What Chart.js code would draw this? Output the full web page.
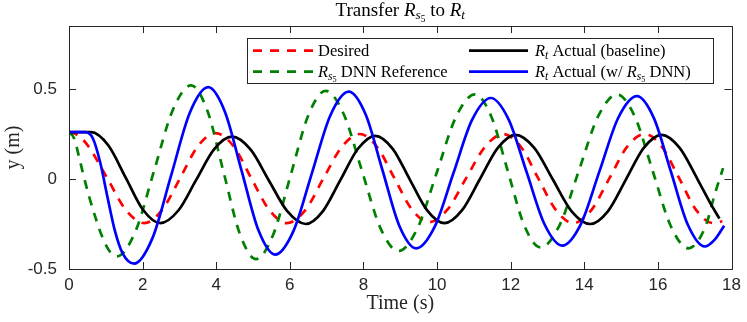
<!DOCTYPE html>
<html>
<head>
<meta charset="utf-8">
<script src="https://cdn.jsdelivr.net/npm/chart.js@4.4.1/dist/chart.umd.min.js"></script>
<style>
  body { margin: 0; background: #fff; }
  #wrap { width: 747px; height: 322px; }
</style>
</head>
<body>
<div id="wrap"><canvas id="c"></canvas></div>
<script>
// tick values
const xTicks = [0, 2, 4, 6, 8, 10, 12, 14, 16, 18];
const yTicks = [-0.5, 0, 0.5];

// Desired (red dashed)
const redT = [0, 0.25, 0.51, 1.03, 1.54, 2.05, 2.53, 3.02, 3.5, 3.98, 4.47, 4.95, 5.44, 5.92, 6.42, 6.91, 7.41, 7.9, 8.37, 8.84, 9.31, 9.78, 10.29, 10.79, 11.3, 11.8, 12.28, 12.75, 13.23, 13.7, 14.19, 14.68, 15.16, 15.65, 16.11, 16.58, 17.04, 17.5, 17.75];
const redY = [0.26, 0.242, 0.186, 0.008, -0.171, -0.245, -0.172, 0.005, 0.182, 0.255, 0.182, 0.005, -0.172, -0.245, -0.173, 0.003, 0.178, 0.25, 0.178, 0.005, -0.168, -0.24, -0.168, 0.005, 0.178, 0.25, 0.178, 0.003, -0.173, -0.245, -0.173, 0.003, 0.178, 0.25, 0.178, 0.003, -0.173, -0.245, -0.235];

// Rs5 DNN reference (green dashed)
const greenT = [0, 0.14, 0.27, 0.4, 0.55, 0.72, 0.9, 1.1, 1.3, 1.805, 2.31, 2.815, 3.32, 3.76, 4.2, 4.64, 5.08, 5.55, 6.025, 6.5, 6.97, 7.465, 7.96, 8.455, 8.95, 9.47, 9.99, 10.51, 11.03, 11.475, 11.92, 12.365, 12.81, 13.33, 13.85, 14.37, 14.89, 15.375, 15.86, 16.345, 16.83, 17.3, 17.55, 17.77];
const greenY = [0.26, 0.225, 0.125, 0.015, -0.1, -0.215, -0.32, -0.4, -0.43, -0.291, 0.045, 0.381, 0.52, 0.379, 0.038, -0.304, -0.445, -0.308, 0.023, 0.353, 0.49, 0.36, 0.045, -0.27, -0.4, -0.273, 0.035, 0.343, 0.47, 0.346, 0.045, -0.256, -0.38, -0.256, 0.045, 0.346, 0.47, 0.345, 0.043, -0.26, -0.385, -0.26, -0.08, 0.06];

// Rt actual, baseline (black)
const blackT = [0, 0.6, 1.07, 1.54, 2.01, 2.48, 2.97, 3.455, 3.94, 4.43, 4.93, 5.43, 5.93, 6.43, 6.9, 7.375, 7.85, 8.32, 8.79, 9.26, 9.73, 10.2, 10.68, 11.165, 11.65, 12.13, 12.64, 13.145, 13.65, 14.16, 14.645, 15.13, 15.615, 16.1, 16.59, 17.08, 17.4, 17.67];
const blackY = [0.26, 0.26, 0.186, 0.008, -0.171, -0.245, -0.175, -0.005, 0.165, 0.235, 0.164, -0.008, -0.179, -0.25, -0.178, -0.005, 0.168, 0.24, 0.169, -0.003, -0.174, -0.245, -0.173, 0, 0.173, 0.245, 0.173, -0.003, -0.178, -0.25, -0.178, -0.003, 0.173, 0.245, 0.173, -0.003, -0.126, -0.22];

// Rt actual, w/ Rs5 DNN (blue)
const blueT = [0, 0.45, 0.65, 0.85, 1.05, 1.25, 1.45, 1.77, 2.27, 2.775, 3.28, 3.78, 4.235, 4.69, 5.145, 5.6, 6.1, 6.6, 7.1, 7.6, 8.06, 8.515, 8.97, 9.43, 9.94, 10.445, 10.95, 11.46, 11.945, 12.43, 12.915, 13.4, 13.91, 14.415, 14.92, 15.43, 15.89, 16.35, 16.81, 17.27, 17.55, 17.8];
const blueY = [0.26, 0.26, 0.225, 0.09, -0.105, -0.29, -0.41, -0.47, -0.327, 0.02, 0.367, 0.51, 0.374, 0.045, -0.284, -0.42, -0.288, 0.033, 0.353, 0.485, 0.358, 0.05, -0.258, -0.385, -0.263, 0.033, 0.328, 0.45, 0.33, 0.04, -0.25, -0.37, -0.249, 0.045, 0.339, 0.46, 0.338, 0.043, -0.253, -0.375, -0.335, -0.26];

// rich text pieces: [text, italic, level] (level 1 = subscript, 2 = sub-subscript)
const titleParts = [['Transfer ', 0, 0], ['R', 1, 0], ['s', 1, 1], ['5', 0, 2], [' to ', 0, 0], ['R', 1, 0], ['t', 1, 1]];
const legendLabels = [
  [['Desired', 0, 0]],
  [['R', 1, 0], ['s', 1, 1], ['5', 0, 2], [' DNN Reference', 0, 0]],
  [['R', 1, 0], ['t', 1, 1], [' Actual (baseline)', 0, 0]],
  [['R', 1, 0], ['t', 1, 1], [' Actual (w/ ', 0, 0], ['R', 1, 0], ['s', 1, 1], ['5', 0, 2], [' DNN)', 0, 0]]
];

const pts = (t, y) => t.map((v, i) => ({ x: v, y: y[i] }));
const SERIF = '"Liberation Serif", "Times New Roman", serif';
const AXC = '#262626';

function drawRich(ctx, parts, x, y, size, align) {
  const segs = parts.map(p => {
    const s = p[2] === 2 ? size * 0.5 : p[2] === 1 ? size * 0.7 : size;
    const font = (p[1] ? 'italic ' : '') + s + 'px ' + SERIF;
    ctx.font = font;
    const dy = p[2] === 2 ? size * 0.3 : p[2] === 1 ? size * 0.17 : 0;
    return { t: p[0], font, dy, w: ctx.measureText(p[0]).width };
  });
  const total = segs.reduce((a, s) => a + s.w, 0);
  let cx = align === 'center' ? x - total / 2 : x;
  ctx.textAlign = 'left';
  ctx.textBaseline = 'alphabetic';
  segs.forEach(s => {
    ctx.font = s.font;
    ctx.fillText(s.t, cx, y + s.dy);
    cx += s.w;
  });
}

const decor = {
  id: 'decor',
  afterDraw(chart) {
    const { ctx, chartArea: a, scales } = chart;
    ctx.save();
    // box and inward ticks
    ctx.strokeStyle = AXC;
    ctx.lineWidth = 1;
    ctx.beginPath();
    xTicks.forEach(v => {
      const px = Math.round(scales.x.getPixelForValue(v)) + 0.5;
      ctx.moveTo(px, a.bottom); ctx.lineTo(px, a.bottom - 7);
      ctx.moveTo(px, a.top); ctx.lineTo(px, a.top + 7);
    });
    yTicks.forEach(v => {
      const py = Math.round(scales.y.getPixelForValue(v)) + 0.5;
      ctx.moveTo(a.left, py); ctx.lineTo(a.left + 7, py);
      ctx.moveTo(a.right, py); ctx.lineTo(a.right - 7, py);
    });
    ctx.stroke();
    ctx.strokeRect(Math.round(a.left) + 0.5, Math.round(a.top) + 0.5, Math.round(a.right - a.left), Math.round(a.bottom - a.top));

    // title
    ctx.fillStyle = '#000';
    drawRich(ctx, titleParts, (a.left + a.right) / 2, 16, 19, 'center');

    // legend box
    const bx = 247.5, by = 38.5, bw = 466, bh = 45;
    ctx.fillStyle = '#fff';
    ctx.fillRect(bx, by, bw, bh);
    ctx.strokeStyle = AXC;
    ctx.strokeRect(bx, by, bw, bh);
    const cols = [[253, 313, 318], [469, 528, 535]];
    const rows = [50.7, 71.7];
    const ds = chart.data.datasets;
    legendLabels.forEach((lab, i) => {
      const c = cols[Math.floor(i / 2)], r = rows[i % 2];
      const d = ds[i];
      ctx.strokeStyle = d.borderColor;
      ctx.lineWidth = d.borderWidth;
      ctx.setLineDash(d.borderDash || []);
      ctx.beginPath();
      ctx.moveTo(c[0], r); ctx.lineTo(c[1], r);
      ctx.stroke();
      ctx.setLineDash([]);
      ctx.fillStyle = '#000';
      drawRich(ctx, lab, c[2], r + 5.5, 16.5, 'left');
    });
    ctx.restore();
  }
};

new Chart(document.getElementById('c'), {
  type: 'line',
  data: {
    datasets: [
      { label: 'Desired', data: pts(redT, redY), borderColor: '#ff0000', borderWidth: 2.7, borderDash: [9, 8], order: 4 },
      { label: 'Rs5 DNN Reference', data: pts(greenT, greenY), borderColor: '#008000', borderWidth: 2.7, borderDash: [9, 8], order: 3 },
      { label: 'Rt Actual (baseline)', data: pts(blackT, blackY), borderColor: '#000000', borderWidth: 2.7, order: 2 },
      { label: 'Rt Actual (w/ Rs5 DNN)', data: pts(blueT, blueY), borderColor: '#0000ff', borderWidth: 2.7, order: 1 }
    ]
  },
  options: {
    responsive: true,
    maintainAspectRatio: false,
    animation: false,
    layout: { padding: { top: 26, right: 12, left: 0, bottom: 0 } },
    elements: { point: { radius: 0 }, line: { cubicInterpolationMode: 'monotone', fill: false } },
    plugins: { legend: { display: false }, title: { display: false }, tooltip: { enabled: false } },
    scales: {
      x: {
        type: 'linear', min: 0, max: 18,
        afterBuildTicks: s => { s.ticks = xTicks.map(v => ({ value: v })); },
        afterFit: s => { s.height = 53; },
        grid: { display: false, drawTicks: false },
        border: { display: false },
        ticks: { font: { family: '"Liberation Sans", Arial, sans-serif', size: 17 }, color: AXC, padding: 6, maxRotation: 0, autoSkip: false },
        title: { display: true, text: 'Time (s)', font: { family: SERIF, size: 20 }, color: AXC, padding: { top: 0, bottom: 6 } }
      },
      y: {
        type: 'linear', min: -0.5, max: 0.85,
        afterBuildTicks: s => { s.ticks = yTicks.map(v => ({ value: v })); },
        afterFit: s => { s.width = 69; },
        grid: { display: false, drawTicks: false },
        border: { display: false },
        ticks: { font: { family: '"Liberation Sans", Arial, sans-serif', size: 17 }, color: AXC, padding: 12, callback: v => String(v) },
        title: { display: true, text: 'y (m)', font: { family: SERIF, size: 20 }, color: AXC, padding: { top: 2, bottom: 0 } }
      }
    }
  },
  plugins: [decor]
});
</script>
</body>
</html>
